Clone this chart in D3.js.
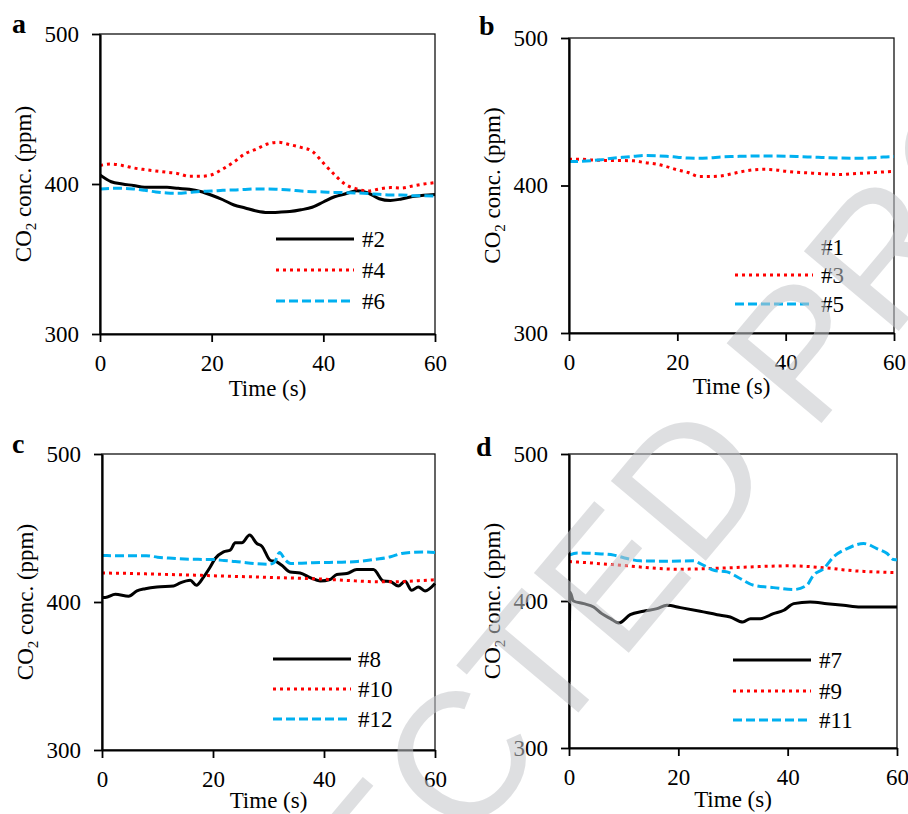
<!DOCTYPE html>
<html><head><meta charset="utf-8">
<script src="https://cdn.jsdelivr.net/npm/d3@7"></script>
<style>html,body{margin:0;padding:0;background:#fff;} svg{display:block;}</style>
</head><body>
<svg id="chart" width="908" height="814"></svg>
<script>
// ---- tick labels ----
const xTicks = [0, 20, 40, 60];
const yTicks = [300, 400, 500];

// ---- time arrays (s) ----
const t2 = [0,2,4,6,8,10,12,14,16,18,20,22,24,26,28,30,32,34,36,38,40,42,44,46,48,50,52,54,56,58,60];
const t8 = [0,0.6,2.4,4.8,6.3,7.8,9.9,12.9,14.1,15.9,17,18.3,19.5,20.4,21.9,23.1,24,25.2,26.6,27.9,28.8,30.3,31.5,32.4,33.9,35.7,37.5,39.3,41.1,42.3,44.1,45.9,48.9,50.7,51.9,53.4,54.6,55.8,57,58.2,60];
const t12 = [0,2,4,6,8,10,12,14,16,18,20,22,24,26,28,30,31,32,33,34,36,38,40,42,44,46,48,50,52,54,56,58,60];
const t7 = [0,0.2,0.8,2.7,4.5,6,7.6,9.1,11.2,13.6,16.1,17.9,20.4,24,27.1,29.5,31.8,33.2,35,37.4,39.3,41.1,44.1,47.2,50.2,53.3,56.3,60];
const t11 = [0,1.5,4.6,8.2,10.6,13,17.9,22.8,24,26.5,28.9,31.3,33.8,37.4,41.1,43.5,44.7,46.6,48.4,50.9,53.9,56.3,58.2,59.4,60];

// ---- CO2 concentrations (ppm) ----
// panel a
const s2 = [406,401.5,400,399,397.8,397.8,397.8,397.1,396.5,395,392.5,389.5,386,384,382,381,381.2,381.6,382.8,384.5,388,391.5,393.5,395.5,394,390.2,389,390,391.6,392.5,393];
const s4 = [412.4,413.3,412.4,410.7,409.6,408.7,407.8,406.9,405.1,405.1,406.2,410,414.7,420.2,423.3,426.7,427.8,426.2,424.4,421.8,414,406.2,399.6,396.7,395.3,396.7,397.6,397.3,398.7,400,400.9];
const s6 = [396.7,397.1,397.1,396.7,395.8,394.7,394,393.8,394.4,395.1,395.3,395.8,396,396.4,396.7,396.7,396.4,396,395.3,394.9,394.7,394.4,394.2,394,393.6,393.1,392.7,392.7,392.2,392.2,392];
// panel b (#1 has no visible trace)
const s1 = [];
const s3 = [417.8,417.8,417.3,417.1,416.9,416.9,416.7,415.5,414.6,412.8,410.6,408.8,406.1,406.1,406.5,407.9,409.5,410.6,411,410.6,409.7,409,408.6,408.1,407.7,407.4,407.9,408.3,408.8,409.2,409.5];
const s5 = [416.2,416.4,416.8,417.5,418.5,419.2,419.8,420.4,420.2,419.8,419.2,418.6,418.5,418.8,419.3,419.6,419.8,420,420,420,419.9,419.7,419.4,419.1,418.8,418.6,418.5,418.5,418.8,419.3,419.6];
// panel c
const s8 = [403,403,405.2,403.9,407.5,409,410.2,410.8,412.9,414.7,411.3,416.9,423.7,429.4,433.9,435,440,440,445.2,439.5,437.7,428.2,427.1,424.8,420.3,419.6,416.5,414.2,415.2,418.6,419.2,421.9,421.9,414.2,413.9,410.8,414,407.9,410.2,407.5,412.5];
const s10 = [419.6,419.5,419.4,419.2,419,418.8,418.6,418.4,418.2,418,417.7,417.5,417.3,417.1,416.9,416.6,416.4,416.2,416,415.7,415.4,415,414.6,414.2,413.8,413.6,413.6,413.8,414.2,414.6,415];
const s12 = [431.4,431.3,431.2,431.3,431.3,430.3,429.7,429.2,428.9,428.8,428.7,428,427.4,426.5,425.8,425.5,426.5,433.5,428.5,426,426.2,426.5,426.7,426.8,427,427.4,428.2,429.2,430.6,432.8,433.6,433.8,433.5];
// panel d
const s7 = [345,406,400,398.2,395.9,391.4,388,385,390.7,393,394.8,397.1,395.5,393,390.7,389.1,385.7,388,388,391.4,393.7,398.2,399.3,398.2,397.1,395.9,395.9,395.9];
const s9 = [426.8,426.4,425.9,425.3,424.8,424.2,423.5,422.8,422.2,421.8,421.6,421.7,421.9,422.1,422.4,422.7,423,423.3,423.6,423.8,423.9,423.8,423.4,422.8,422.2,421.3,420.6,420.1,419.8,419.5,419.3];
const s11 = [431.2,432.7,432.3,431.2,428.9,427.3,427.1,427.3,425.5,420.9,419.8,415.3,410.7,409.1,407.8,410.7,417.5,422.1,430,435.7,439.1,435.7,432.3,428.2,428];

// ---- styles ----
const styles = {
  solid: {stroke: "#000000", width: 3, dash: null},
  dot:   {stroke: "#FF0000", width: 3, dash: "3 4"},
  dash:  {stroke: "#00B0F0", width: 3, dash: "9 4"},
  none:  {stroke: "none", width: 0, dash: null}
};

const panels = [
  {letter: "a", box: {l: 100, r: 435, t: 34, b: 334}, letterPos: [12, 33], titleY: 396,
   legend: {x0: 176, x1: 254, tx: 262, rows: [205, 236, 267]},
   series: [{name: "#2", t: t2, v: s2, style: "solid"},
            {name: "#4", t: t2, v: s4, style: "dot"},
            {name: "#6", t: t2, v: s6, style: "dash"}]},
  {letter: "b", box: {l: 569, r: 894, t: 38, b: 333}, letterPos: [479, 35], titleY: 394,
   legend: {x0: 166, x1: 244, tx: 252, rows: [209, 237, 266]},
   series: [{name: "#1", t: [], v: s1, style: "none"},
            {name: "#3", t: t2, v: s3, style: "dot"},
            {name: "#5", t: t2, v: s5, style: "dash"}]},
  {letter: "c", box: {l: 102, r: 435, t: 454, b: 750}, letterPos: [12, 453], titleY: 808,
   legend: {x0: 171, x1: 249, tx: 256, rows: [205, 235, 265]},
   series: [{name: "#8", t: t8, v: s8, style: "solid"},
            {name: "#10", t: t2, v: s10, style: "dot"},
            {name: "#12", t: t12, v: s12, style: "dash"}]},
  {letter: "d", box: {l: 569, r: 897, t: 454, b: 748}, letterPos: [476, 456], titleY: 807,
   legend: {x0: 164, x1: 242, tx: 250, rows: [206, 237, 266]},
   series: [{name: "#7", t: t7, v: s7, style: "solid"},
            {name: "#9", t: t2, v: s9, style: "dot"},
            {name: "#11", t: t11, v: s11, style: "dash"}]}
];

const FONT = "'Liberation Serif','Times New Roman',serif";
const svg = d3.select("#chart");
svg.append("rect").attr("width", 908).attr("height", 814).attr("fill", "#fff");

panels.forEach((p, i) => {
  const {l, r, t, b} = p.box;
  const x = d3.scaleLinear().domain([0, 60]).range([l, r]);
  const y = d3.scaleLinear().domain([300, 500]).range([b, t]);
  const g = svg.append("g");

  // frame (top/right thin)
  g.append("rect").attr("x", l).attr("y", t).attr("width", r - l).attr("height", b - t)
    .attr("fill", "none").attr("stroke", "#111").attr("stroke-width", 1.3);

  const clipId = "clip" + i;
  svg.append("clipPath").attr("id", clipId).append("rect")
    .attr("x", l).attr("y", t - 2).attr("width", r - l + 2).attr("height", b - t + 2);

  // series
  const line = d3.line().x(d => x(d[0])).y(d => y(d[1])).curve(d3.curveMonotoneX);
  p.series.forEach(s => {
    const st = styles[s.style];
    if (!s.t.length) return;
    const data = s.t.map((tt, k) => [tt, s.v[k]]);
    g.append("path").attr("clip-path", `url(#${clipId})`)
      .attr("d", line(data)).attr("fill", "none")
      .attr("stroke", st.stroke).attr("stroke-width", st.width)
      .attr("stroke-dasharray", st.dash).attr("stroke-linejoin", "round");
  });

  // axes
  const ax = g.append("g").attr("transform", `translate(0,${b})`)
    .call(d3.axisBottom(x).tickValues(xTicks).tickSize(8).tickSizeOuter(0).tickPadding(13));
  const ay = g.append("g").attr("transform", `translate(${l},0)`)
    .call(d3.axisLeft(y).tickValues(yTicks).tickSize(8).tickSizeOuter(0).tickPadding(13));
  [ax, ay].forEach(a => {
    a.select(".domain").attr("stroke", "#000").attr("stroke-width", 2.2);
    a.selectAll(".tick line").attr("stroke", "#000").attr("stroke-width", 1.8);
    a.selectAll(".tick text").attr("font-family", FONT).attr("font-size", 23).attr("fill", "#000");
  });

  // axis titles
  g.append("text").attr("x", (l + r) / 2).attr("y", p.titleY).attr("text-anchor", "middle")
    .attr("font-family", FONT).attr("font-size", 23).text("Time (s)");
  const yt = g.append("text")
    .attr("transform", `translate(${l - 69},${(t + b) / 2}) rotate(-90)`)
    .attr("text-anchor", "middle").attr("font-family", FONT).attr("font-size", 23);
  yt.append("tspan").text("CO");
  yt.append("tspan").attr("font-size", 15).attr("dy", 5).text("2");
  yt.append("tspan").attr("dy", -5).text(" conc. (ppm)");

  // panel letter
  g.append("text").attr("x", p.letterPos[0]).attr("y", p.letterPos[1])
    .attr("font-family", FONT).attr("font-weight", "bold").attr("font-size", 28).text(p.letter);

  // legend
  p.series.forEach((s, k) => {
    const st = styles[s.style];
    const ly = t + p.legend.rows[k];
    if (st.stroke !== "none") {
      g.append("line").attr("x1", l + p.legend.x0).attr("x2", l + p.legend.x1)
        .attr("y1", ly).attr("y2", ly).attr("stroke", st.stroke)
        .attr("stroke-width", st.width).attr("stroke-dasharray", st.dash);
    }
    g.append("text").attr("x", l + p.legend.tx).attr("y", ly + 8)
      .attr("font-family", FONT).attr("font-size", 23).text(s.name);
  });
});

// watermark
svg.append("text")
  .attr("transform", "translate(-120,1545) rotate(-50)")
  .attr("font-family", "'Liberation Sans',Arial,sans-serif")
  .attr("font-size", 180).attr("fill", "#c4c6ca").attr("opacity", 0.55)
  .text("UNCORRECTED PROOF");
</script>
</body></html>
